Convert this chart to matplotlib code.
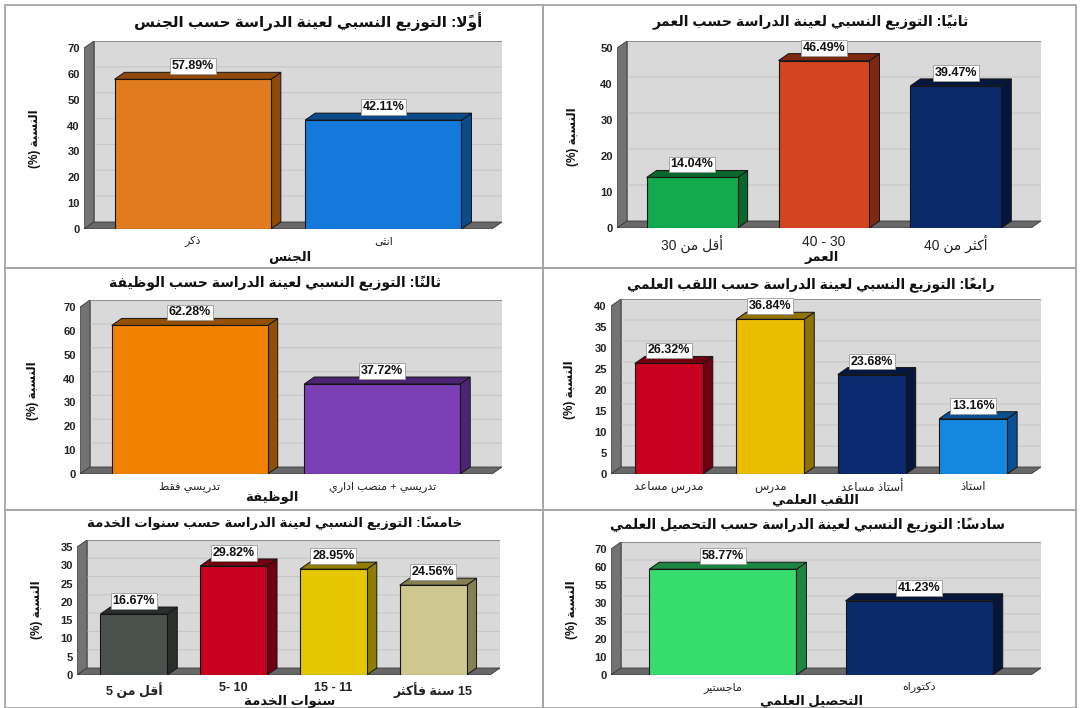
#! /usr/bin/env python3
"""Six 3D-style bar panels: sample distribution by demographic variable."""

import matplotlib

matplotlib.use("Agg")
import matplotlib.pyplot as plt  # noqa: E402
from matplotlib.patches import Polygon, Rectangle  # noqa: E402

FIG_W, FIG_H = 1080, 708

# ---- data -----------------------------------------------------------------
gender_labels = ["ذكر", "انثى"]
gender_values = [57.89, 42.11]

age_labels = ["أقل من 30", "30 - 40", "أكثر من 40"]
age_values = [14.04, 46.49, 39.47]

job_labels = ["تدريسي فقط", "تدريسي + منصب اداري"]
job_values = [62.28, 37.72]

rank_labels = ["مدرس مساعد", "مدرس", "أستاذ مساعد", "استاذ"]
rank_values = [26.32, 36.84, 23.68, 13.16]

service_labels = ["أقل من 5", "10 -5", "11 - 15", "15 سنة فأكثر"]
service_values = [16.67, 29.82, 28.95, 24.56]

degree_labels = ["ماجستير", "دكتوراه"]
degree_values = [58.77, 41.23]
degree_ticks = ["0", "10", "20", "35", "30", "55", "60", "70"]

# ---- minimal Arabic shaping (presentation forms) + visual ordering ----------
_CODES = list(range(0x621, 0x63B)) + list(range(0x641, 0x64B))
_NFORMS = [1, 2, 2, 2, 2, 4, 2, 4, 2, 4, 4, 4, 4, 4, 2, 2, 2, 2,
           4, 4, 4, 4, 4, 4, 4, 4, 4, 4, 4, 4, 4, 4, 4, 2, 2, 4]
FORMS = {}
_pos = 0xFE80
for _c, _n in zip(_CODES, _NFORMS):
    FORMS[chr(_c)] = [chr(_pos + i) for i in range(_n)]
    _pos += _n
LAM_ALEF = {"آ": 0xFEF5, "أ": 0xFEF7, "إ": 0xFEF9, "ا": 0xFEFB}
MARKS = {chr(c) for c in range(0x64B, 0x653)}
MIRROR = {"(": ")", ")": "("}


def shape(text):
    """Return a list of clusters (base glyph + trailing marks) in logical order."""
    chars = list(text)
    n = len(chars)

    def letter_before(k):
        j = k - 1
        while j >= 0 and chars[j] in MARKS:
            j -= 1
        return chars[j] if j >= 0 else None

    def letter_after(k):
        j = k + 1
        while j < n and chars[j] in MARKS:
            j += 1
        return (chars[j], j) if j < n else (None, n)

    clusters = []
    k = 0
    while k < n:
        ch = chars[k]
        if ch in MARKS:
            if clusters:
                clusters[-1] += ch
            else:
                clusters.append(ch)
            k += 1
            continue
        if ch not in FORMS:
            clusters.append(ch)
            k += 1
            continue
        prev = letter_before(k)
        joins_prev = prev is not None and prev in FORMS and len(FORMS[prev]) == 4
        nxt, j = letter_after(k)
        if ch == "ل" and nxt in LAM_ALEF:
            code = LAM_ALEF[nxt] + (1 if joins_prev else 0)
            clusters.append(chr(code))
            k = j + 1
            continue
        forms = FORMS[ch]
        joins_next = len(forms) == 4 and nxt is not None and nxt in FORMS and len(FORMS[nxt]) > 1
        if joins_prev and joins_next:
            g = forms[3]
        elif joins_prev:
            g = forms[1]
        elif joins_next:
            g = forms[2]
        else:
            g = forms[0]
        clusters.append(g)
        k += 1
    return clusters


def ar(text):
    """Shape Arabic text and lay it out right-to-left in drawing order."""
    cl = [MIRROR.get(c, c) for c in reversed(shape(text))]
    out, run = [], []
    for c in cl:
        if c.isascii() and (c.isalnum() or c in ".%"):
            run.append(c)
        else:
            out.extend(reversed(run))
            run = []
            out.append(c)
    out.extend(reversed(run))
    return "".join(out)


FONT = ["Liberation Sans", "DejaVu Sans"]
plt.rcParams["font.family"] = FONT

fig = plt.figure(figsize=(FIG_W / 100, FIG_H / 100), dpi=100)

DX, DY = 10, 7  # 3D depth in pixels


def fig_text(x, y, s, **kw):
    fig.text(x / FIG_W, 1 - y / FIG_H, s, ha="center", va="center", **kw)


def panel(box, front, values, labels, colors, sides, ymax, step, title, xlabel,
          title_xy, ylabel_xy, xlabel_xy, title_size=10, cat_size=8, cat_bold=False,
          width=0.7, tick_labels=None):
    bx0, by0, bx1, by1 = box
    fig.add_artist(Rectangle((bx0 / FIG_W, 1 - by1 / FIG_H),
                             (bx1 - bx0) / FIG_W, (by1 - by0) / FIG_H,
                             transform=fig.transFigure, fill=False,
                             ec="#a6a6a6", lw=1.3))

    L, R, y0, ytop = front
    n = len(values)
    pad = 0.57
    ppx = (R - L) / (n - 1 + 2 * pad)
    ppy = (y0 - ytop) / ymax
    dx, dy = DX / ppx, DY / ppy
    ax = fig.add_axes([L / FIG_W, 1 - y0 / FIG_H,
                       (R - L + DX) / FIG_W, (y0 - ytop + DY) / FIG_H])
    x0, x1 = -pad, n - 1 + pad
    ax.set_xlim(x0, x1 + dx)
    ax.set_ylim(0, ymax + dy)
    for s in ax.spines.values():
        s.set_visible(False)
    ax.patch.set_visible(False)

    # back wall, grid, left wall and floor
    ax.add_patch(Rectangle((x0 + dx, dy), x1 - x0, ymax, fc="#d9d9d9",
                           ec="#8c8c8c", lw=0.7, zorder=1))
    ticks = list(range(0, ymax + 1, step))
    for t in ticks[1:-1]:
        ax.plot([x0, x0 + dx, x1 + dx], [t, t + dy, t + dy],
                color="#c6c6c6", lw=0.8, zorder=2)
    ax.add_patch(Polygon([(x0, 0), (x0 + dx, dy), (x0 + dx, ymax + dy), (x0, ymax)],
                         fc="#737373", ec="#3a3a3a", lw=0.6, zorder=3))
    ax.add_patch(Polygon([(x0, 0), (x1, 0), (x1 + dx, dy), (x0 + dx, dy)],
                         fc="#686868", ec="#3a3a3a", lw=0.6, zorder=3))

    for i, (v, c, sc) in enumerate(zip(values, colors, sides)):
        a, b = i - width / 2, i + width / 2
        ax.add_patch(Polygon([(b, 0), (b + dx, dy), (b + dx, v + dy), (b, v)],
                             fc=sc, ec="#151515", lw=0.7, zorder=4))
        ax.add_patch(Polygon([(a, v), (b, v), (b + dx, v + dy), (a + dx, v + dy)],
                             fc=sc, ec="#151515", lw=0.7, zorder=4))
        ax.add_patch(Rectangle((a, 0), width, v, fc=c, ec="#151515", lw=0.8, zorder=5))
        ax.text(i, v + dy, f"{v:.2f}%", ha="center", va="bottom", fontsize=9,
                fontweight="bold", color="#111", zorder=6,
                bbox=dict(boxstyle="square,pad=0.15", fc="white", ec="#9a9a9a", lw=0.6))

    ax.set_yticks(ticks)
    ax.set_yticklabels(tick_labels or [str(t) for t in ticks], fontsize=8,
                       fontweight="bold", color="#222")
    ax.set_xticks(range(n))
    ax.set_xticklabels(labels, fontsize=cat_size,
                       fontweight="bold" if cat_bold else "normal", color="#222")
    ax.tick_params(length=0)
    ax.tick_params(axis="y", pad=3)
    ax.tick_params(axis="x", pad=5)

    fig_text(*title_xy, ar(title), fontsize=title_size, fontweight="bold", color="#111")
    fig_text(*xlabel_xy, ar(xlabel), fontsize=9.5, fontweight="bold", color="#111")
    fig_text(*ylabel_xy, ar("النسبة (%)"), fontsize=8.5, fontweight="bold",
             color="#111", rotation=90)


panel((5, 5, 543, 268), (84, 492, 229, 48), gender_values,
      [ar(s) for s in gender_labels],
      ["#e07c1e", "#1479da"], ["#8e4a0c", "#0b4b8a"], 70, 10,
      "أولاً: التوزيع النسبي لعينة الدراسة حسب الجنس", "الجنس",
      (308, 22), (35, 139), (290, 257), title_size=11, width=0.82)

panel((543, 5, 1076, 268), (617, 1031, 228, 48), age_values,
      [ar(s) for s in age_labels],
      ["#12aa4c", "#d4451f", "#0b2a6c"], ["#0a672c", "#7e2811", "#05163d"], 50, 10,
      "ثانياً: التوزيع النسبي لعينة الدراسة حسب العمر", "العمر",
      (811, 22), (573, 137), (822, 257), title_size=10.2, cat_size=10, width=0.69)

panel((5, 268, 543, 510), (80, 492, 474, 307), job_values,
      [ar(s) for s in job_labels],
      ["#f08200", "#7b40b4"], ["#925000", "#4b2474"], 70, 10,
      "ثالثاً: التوزيع النسبي لعينة الدراسة حسب الوظيفة", "الوظيفة",
      (275, 283), (33, 391), (272, 498), title_size=10, width=0.81)

panel((543, 268, 1076, 510), (611, 1031, 474, 306), rank_values,
      [ar(s) for s in rank_labels],
      ["#c8001f", "#ebbd00", "#0b2a70", "#1488e0"],
      ["#700010", "#8f7200", "#05163f", "#0b5090"], 40, 5,
      "رابعاً: التوزيع النسبي لعينة الدراسة حسب اللقب العلمي", "اللقب العلمي",
      (811, 285), (570, 390), (815, 500), title_size=9.9, cat_size=8.5, width=0.67)

panel((5, 510, 543, 708), (77, 490, 675, 547), service_values,
      [ar(s) for s in service_labels],
      ["#4b524d", "#c8001f", "#e4c700", "#cec78e"],
      ["#2a2f2b", "#700010", "#8f7c00", "#857f52"], 35, 5,
      "خامساً: التوزيع النسبي لعينة الدراسة حسب سنوات الخدمة", "سنوات الخدمة",
      (275, 523), (37, 610), (290, 701), title_size=9.6, cat_size=9,
      cat_bold=True, width=0.67)

panel((543, 510, 1076, 708), (611, 1031, 675, 549), degree_values,
      [ar(s) for s in degree_labels],
      ["#36dc6e", "#0b2a6c"], ["#1d8542", "#05163d"], 70, 10,
      "سادساً: التوزيع النسبي لعينة الدراسة حسب التحصيل العلمي", "التحصيل العلمي",
      (807, 525), (572, 610), (812, 701), title_size=9.8, width=0.75,
      tick_labels=degree_ticks)

fig.savefig("out.png", dpi=100)
